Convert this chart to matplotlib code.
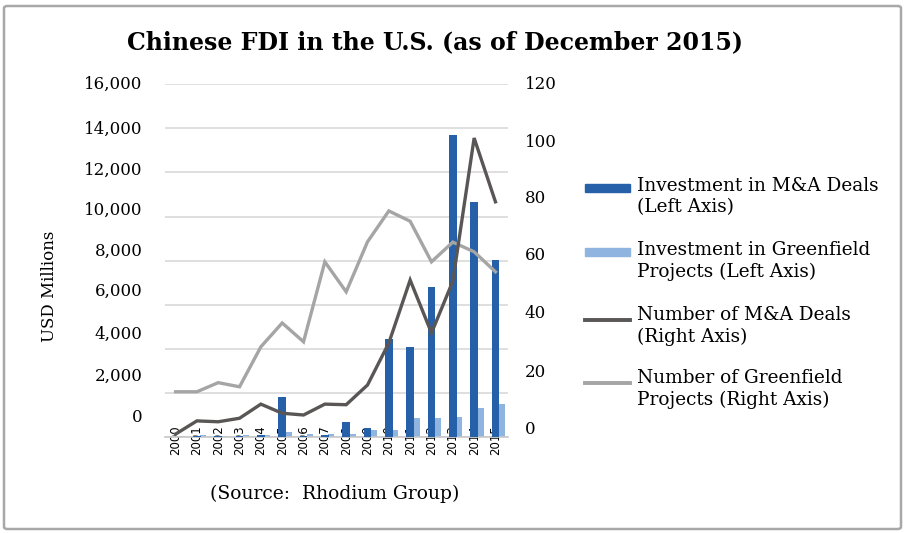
import matplotlib.pyplot as plt
from matplotlib.patches import FancyBboxPatch, Rectangle
from matplotlib.lines import Line2D
from matplotlib.transforms import ScaledTranslation
import numpy as np

plt.rcParams['font.family'] = 'DejaVu Serif'

years = [str(y) for y in range(2000, 2016)]
ma_invest = [0, 50, 50, 50, 100, 1830, 50, 100, 700, 410, 4430, 4090, 6810, 13680, 10660, 8050]
gf_invest = [50, 100, 50, 100, 100, 250, 150, 150, 150, 300, 300, 860, 860, 920, 1340, 1490]
ma_count = [1, 5.5, 5.2, 6.4, 11.2, 8.1, 7.5, 11.2, 11, 17.7, 32, 53.4, 35.4, 53, 101.7, 80]
gf_count = [15.4, 15.4, 18.5, 17.1, 30.7, 38.8, 32.4, 59.6, 49.4, 66.4, 76.9, 73.4, 59.6, 66.3, 63, 56.2]

left_ticks = list(range(0, 16001, 2000))
right_ticks = list(range(0, 121, 20))

dark_blue = '#2660a8'
light_blue = '#8fb4e0'
dark_gray = '#5a5656'
light_gray = '#a5a5a5'

fig = plt.figure(figsize=(9.06, 5.33), dpi=100)
ax = fig.add_axes([0.182, 0.180, 0.379, 0.662])
ax2 = ax.twinx()

x = np.arange(len(years))
ax.bar(x + 0.30, gf_invest, width=0.30, color=light_blue, zorder=2)
ax.bar(x, ma_invest, width=0.36, color=dark_blue, zorder=3)

ax2.plot(x, gf_count, color=light_gray, lw=2.4, solid_joinstyle='miter')
ax2.plot(x, ma_count, color=dark_gray, lw=2.4, solid_joinstyle='miter')

ax.set_xlim(-0.5, 15.6)
ax.set_ylim(0, 16000)
ax2.set_ylim(0, 120)
ax.set_yticks(left_ticks)
ax.set_yticklabels([f'{v:,}' for v in left_ticks])
ax2.set_yticks(right_ticks)
ax.grid(axis='y', color='#d9d9d9', lw=1.2, zorder=0)
ax.set_axisbelow(True)
for a in (ax, ax2):
    for s in a.spines.values():
        s.set_visible(False)
ax.spines['bottom'].set_visible(True)
ax.spines['bottom'].set_color('#c8c8c8')
ax.spines['bottom'].set_linewidth(1.2)

ax.set_xticks(x)
ax.set_xticklabels(years, rotation=90, fontsize=8.5, family='DejaVu Sans')
ax.tick_params(axis='x', length=0, pad=-8.6)
ax.tick_params(axis='y', length=0, pad=16, labelsize=12)
ax2.tick_params(axis='y', length=0, pad=12, labelsize=12)

# the original's axis labels drift upward from their gridlines; mimic that
left_shift = [22, 19, 17, 15, 11, 8, 4, 1, 2]
right_shift = [10, 8, 7.5, 7.5, 5, 3, 2]
for lab, d in zip(ax.get_yticklabels(), left_shift):
    lab.set_transform(lab.get_transform() + ScaledTranslation(0, d / 100, fig.dpi_scale_trans))
for lab, d in zip(ax2.get_yticklabels(), right_shift):
    lab.set_transform(lab.get_transform() + ScaledTranslation(0, d / 100, fig.dpi_scale_trans))

fig.text(0.055, 0.462, 'USD Millions', rotation=90, ha='center', va='center', fontsize=12)
fig.text(0.48, 0.921, 'Chinese FDI in the U.S. (as of December 2015)', ha='center', va='center',
         fontsize=17, fontweight='bold')
fig.text(0.369, 0.073, '(Source:  Rhodium Group)', ha='center', va='center', fontsize=13.5)

# legend drawn by hand so handles sit on the first text line
entries = [
    ('bar', dark_blue, 'Investment in M&A Deals\n(Left Axis)', 188),
    ('bar', light_blue, 'Investment in Greenfield\nProjects (Left Axis)', 252),
    ('line', dark_gray, 'Number of M&A Deals\n(Right Axis)', 317),
    ('line', light_gray, 'Number of Greenfield\nProjects (Right Axis)', 380),
]
W, H = 906, 533
for kind, color, label, ypix in entries:
    yf = 1 - ypix / H
    if kind == 'bar':
        fig.patches.append(Rectangle((585 / W, yf - 4 / H), 45 / W, 8 / H, color=color,
                                     transform=fig.transFigure, figure=fig))
    else:
        fig.lines.append(Line2D([585 / W, 630 / W], [yf - 3 / H, yf - 3 / H], color=color, lw=2.8,
                                transform=fig.transFigure, figure=fig))
    fig.text(637 / W, yf + 11 / H, label, ha='left', va='top', fontsize=13.3, linespacing=1.25)

fig.patches.append(FancyBboxPatch((4 / W, 4 / H), 897 / W, 523 / H,
                                  boxstyle='round,pad=0,rounding_size=0.004',
                                  fill=False, ec='#a8a8a8', lw=1.8,
                                  transform=fig.transFigure, figure=fig))

fig.savefig('out.png', dpi=100)
